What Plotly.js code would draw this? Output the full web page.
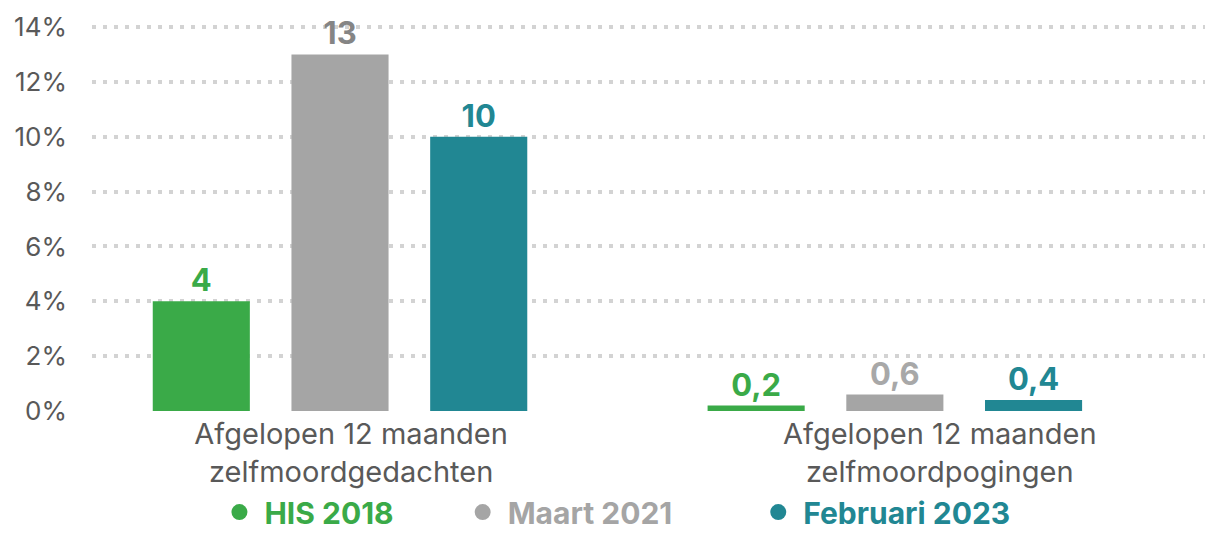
<!DOCTYPE html>
<html>
<head>
<meta charset="utf-8">
<script src="https://cdn.plot.ly/plotly-3.0.1.min.js"></script>
<style>html,body{margin:0;padding:0;background:#fff;}#chart{width:1205px;height:533px;}</style>
</head>
<body>
<div id="chart"></div>
<script>
var categories = ['Afgelopen 12 maanden<br>zelfmoordgedachten', 'Afgelopen 12 maanden<br>zelfmoordpogingen'];
var seriesNames = ['HIS 2018', 'Maart 2021', 'Februari 2023'];
var his2018 = [4, 0.2];
var maart2021 = [13, 0.6];
var februari2023 = [10, 0.4];
var yTicks = [0, 2, 4, 6, 8, 10, 12, 14];
var yTickText = ['0%', '2%', '4%', '6%', '8%', '10%', '12%', '14%'];

var colors = ['#3aaa48', '#a5a5a5', '#218793'];
var labelColors = [['#3aaa48', '#3aaa48'], ['#858585', '#a8a8a8'], ['#218793', '#218793']];
var seriesValues = [his2018, maart2021, februari2023];
var offsets = [-0.3375, -0.0875, 0.1625];
var groupPos = categories.map(function (c, i) { return i; });
var labelShift = [0.02, 0.081];
var fontFam = 'Inter, Lato, sans-serif';

function fmt(v) { return String(v).replace('.', ','); }

var traces = [];
seriesValues.forEach(function (vals, i) {
  traces.push({
    type: 'bar',
    x: groupPos,
    y: vals,
    width: 0.175,
    offset: offsets[i],
    marker: { color: colors[i] },
    text: vals.map(fmt),
    textposition: 'outside',
    cliponaxis: false,
    textfont: { family: fontFam, size: 31, color: labelColors[i], weight: 'bold' },
    showlegend: false,
    hoverinfo: 'skip'
  });
});
var pads = ['\u00a0\u00a0\u00a0\u00a0\u00a0\u00a0\u00a0', '\u00a0\u00a0\u00a0\u00a0\u00a0\u00a0\u00a0\u00a0\u00a0', ''];
seriesNames.forEach(function (n, i) {
  traces.push({
    type: 'scatter',
    mode: 'markers',
    x: [null],
    y: [null],
    name: '<span style="color:' + colors[i] + '"><b>' + n + '</b></span>' + pads[i],
    marker: { color: colors[i], size: 16, symbol: 'circle' },
    showlegend: true
  });
});

var layout = {
  width: 1205,
  height: 533,
  margin: { l: 92, r: 0, t: 13, b: 122, autoexpand: false },
  paper_bgcolor: '#ffffff',
  plot_bgcolor: '#ffffff',
  barmode: 'overlay',
  font: { family: fontFam, color: '#595959' },
  xaxis: {
    type: 'linear',
    range: [-0.447, 1.559],
    tickvals: groupPos.map(function (p, i) { return p + labelShift[i]; }),
    ticktext: categories,
    showgrid: false,
    zeroline: false,
    showline: false,
    ticks: '',
    tickfont: { family: fontFam, size: 29, color: '#595959' },
    ticklabelstandoff: 3
  },
  yaxis: {
    range: [0, 14.51],
    tickvals: yTicks,
    ticktext: yTickText,
    showgrid: true,
    gridcolor: '#d3d3d3',
    gridwidth: 4,
    griddash: '4px,7px',
    zeroline: false,
    showline: false,
    ticks: '',
    tickfont: { family: fontFam, size: 26, color: '#595959' },
    ticklabelstandoff: 24
  },
  showlegend: true,
  legend: {
    orientation: 'h',
    x: 0.11,
    xanchor: 'left',
    y: -0.254,
    yanchor: 'middle',
    itemwidth: 40,
    font: { family: fontFam, size: 30 },
    bgcolor: 'rgba(0,0,0,0)'
  }
};

Plotly.newPlot('chart', traces, layout, { displayModeBar: false, staticPlot: true });
</script>
</body>
</html>
